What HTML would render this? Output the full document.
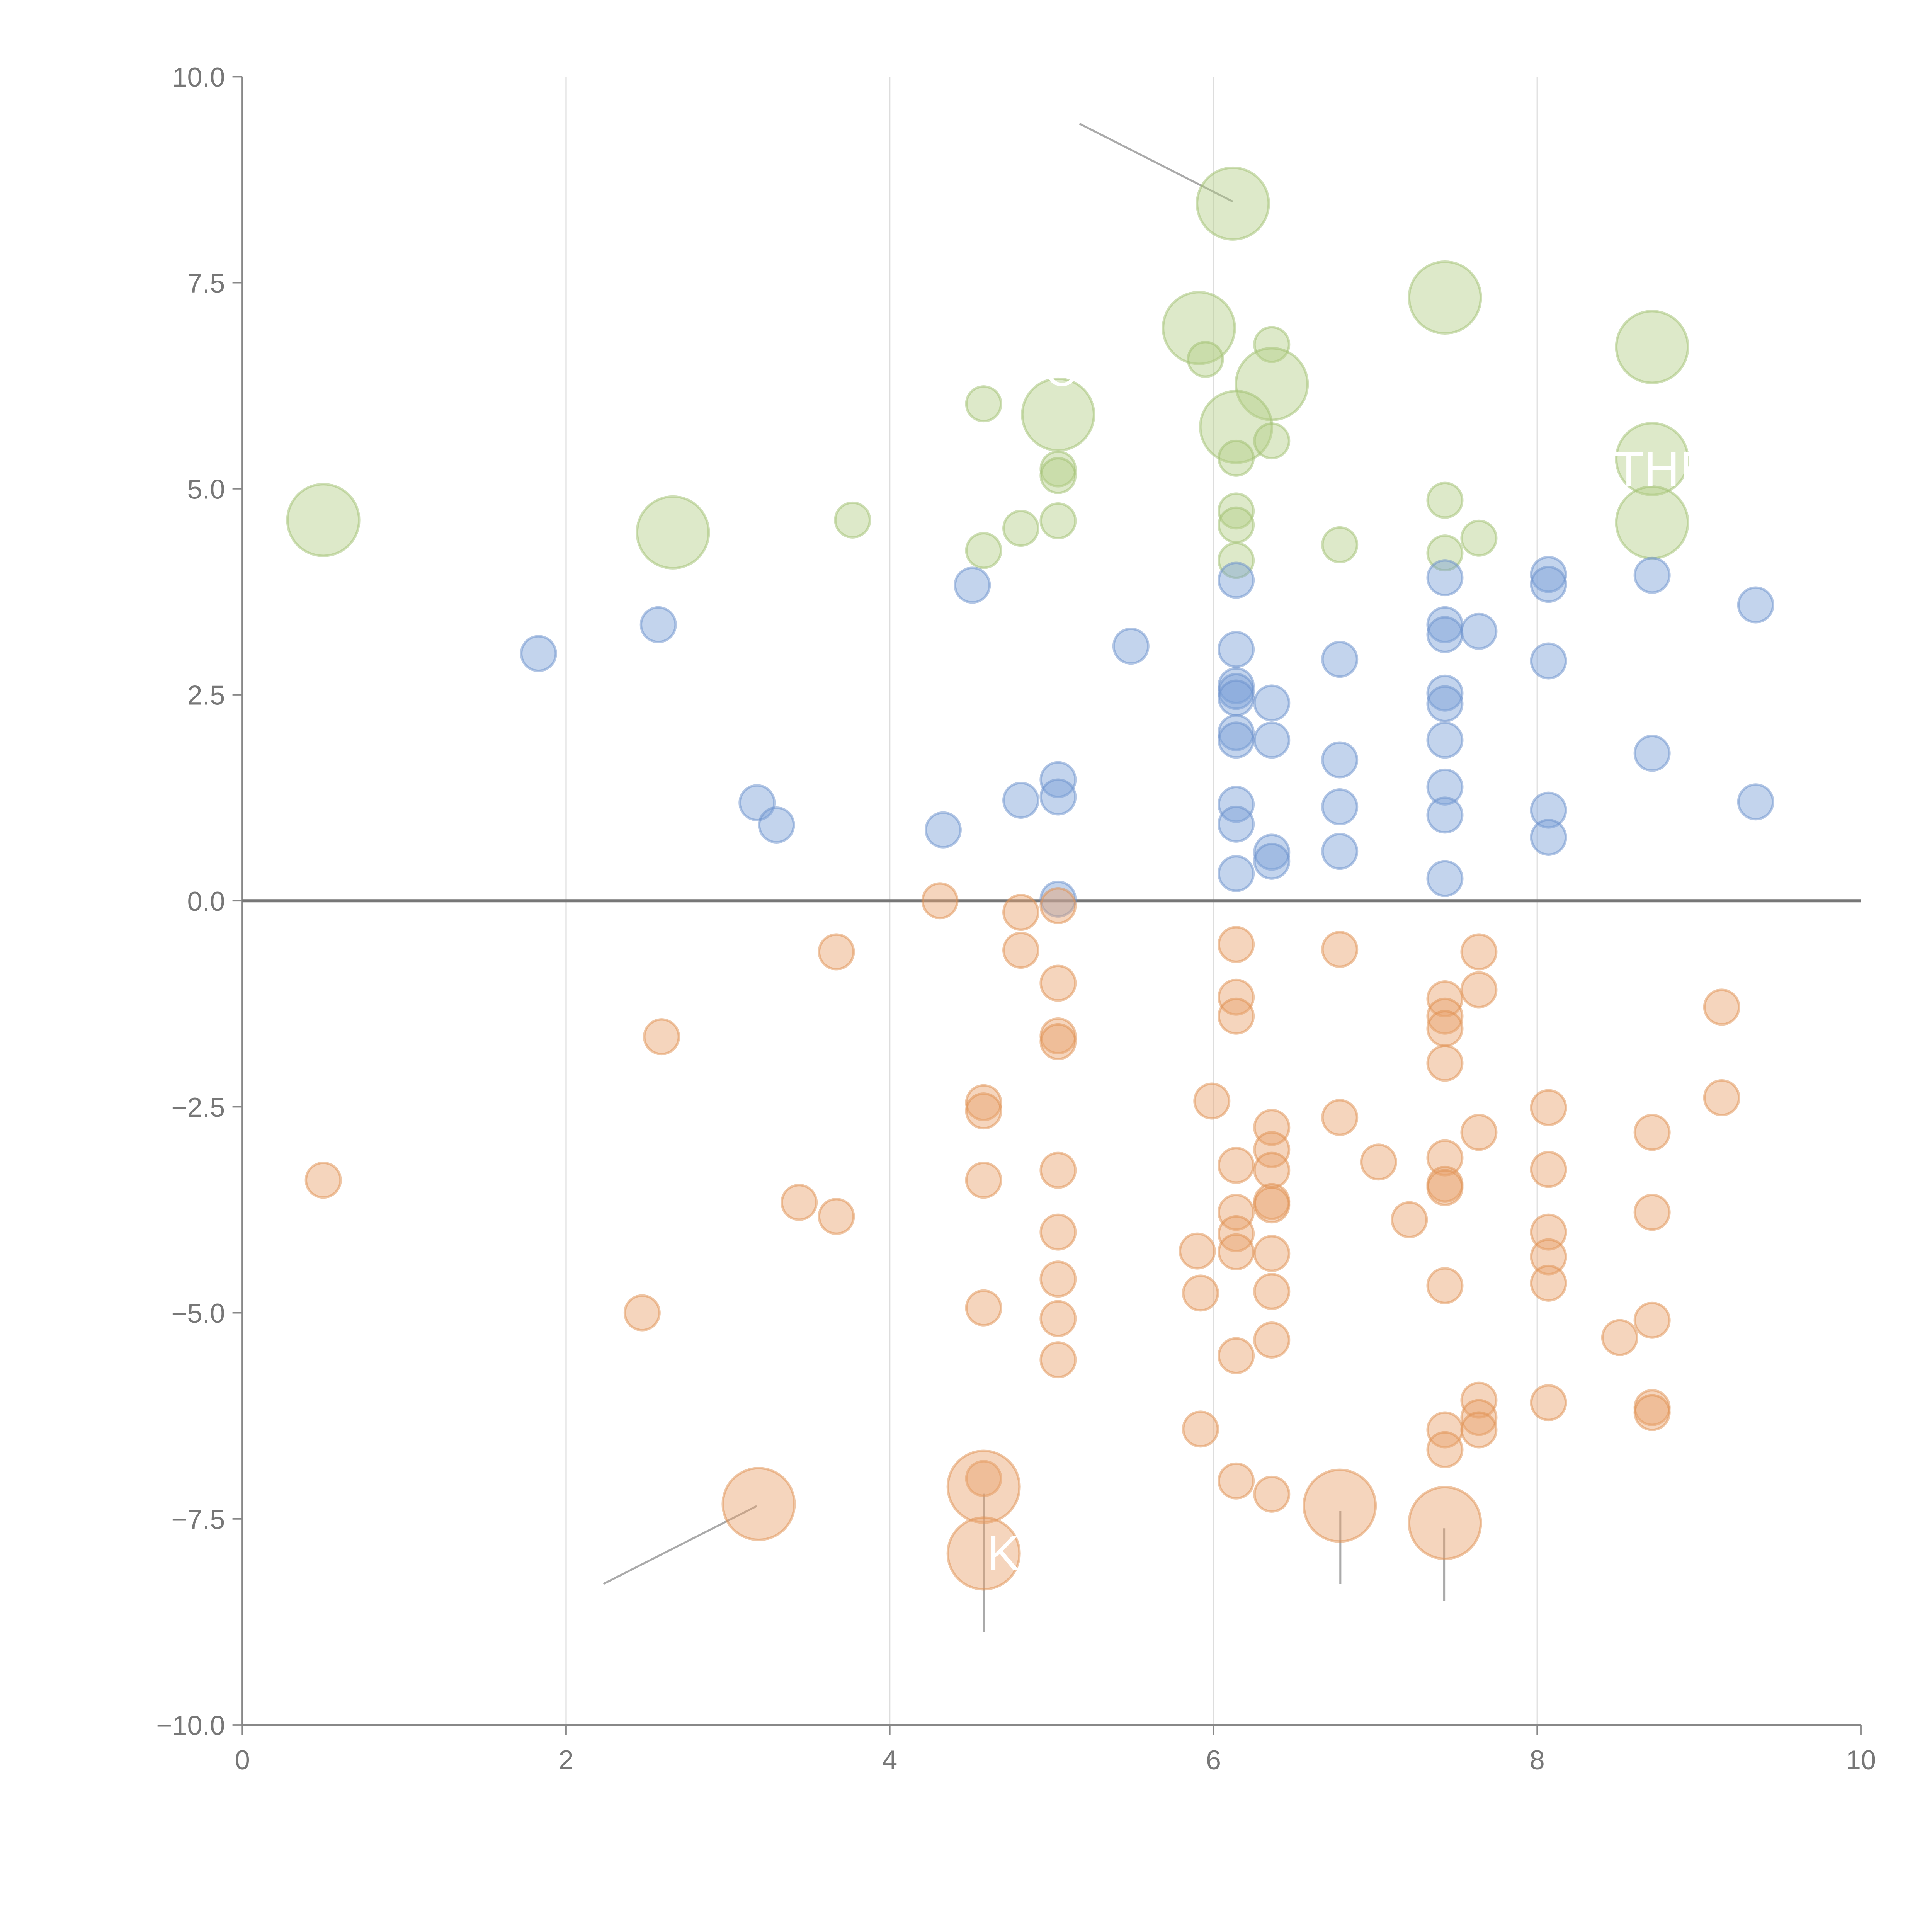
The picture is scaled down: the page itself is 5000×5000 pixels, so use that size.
<!DOCTYPE html>
<html><head><meta charset="utf-8"><style>html,body{margin:0;padding:0;background:#fff}svg{display:block}</style></head>
<body>
<svg id="chart" width="5000" height="5000" viewBox="0 0 1562.5 1562.5" xmlns="http://www.w3.org/2000/svg" font-family="Liberation Sans, sans-serif">
<g id="grid"></g>
<g id="axes"></g>
<g id="annot"></g>
<g id="marks"></g>
<g id="labels"></g>
</svg>
<script>
const xTicks = [0,2,4,6,8,10];
const yTicks = [-10,-7.5,-5,-2.5,0,2.5,5,7.5,10];
const yTickLabels = ["\u221210.0","\u22127.5","\u22125.0","\u22122.5","0.0","2.5","5.0","7.5","10.0"];
const greenX = [0.50,2.66,3.77,4.58,4.58,4.81,5.04,5.04,5.04,5.04,6.12,5.91,5.95,6.36,6.36,6.14,6.36,6.14,6.14,6.14,6.14,6.78,7.43,7.43,7.43,7.64,8.71,8.71,8.71];
const greenY = [4.62,4.47,4.62,6.03,4.25,4.52,5.90,5.24,5.16,4.61,8.46,6.95,6.57,6.75,6.27,5.75,5.58,5.37,4.73,4.56,4.13,4.32,7.32,4.86,4.22,4.40,6.72,5.36,4.59];
const greenS = [2,2,1,1,1,1,2,1,1,1,2,2,1,1,2,2,1,1,1,1,1,1,2,1,1,1,2,2,2];
const blueX = [1.83,2.57,3.18,3.30,4.33,4.51,4.81,5.04,5.04,5.04,5.49,6.14,6.14,6.14,6.14,6.14,6.14,6.14,6.14,6.14,6.14,6.36,6.36,6.36,6.36,6.78,6.78,6.78,6.78,7.43,7.43,7.43,7.43,7.43,7.43,7.43,7.43,7.43,7.64,8.07,8.07,8.07,8.07,8.07,8.71,8.71,9.35,9.35];
const blueY = [3.00,3.35,1.19,0.92,0.86,3.83,1.22,1.47,1.26,0.02,3.09,3.89,3.05,2.61,2.54,2.46,2.04,1.95,1.17,0.93,0.33,2.40,1.95,0.59,0.48,2.93,1.71,1.14,0.60,3.92,3.35,3.23,2.52,2.39,1.95,1.38,1.04,0.27,3.27,3.96,3.84,2.91,1.10,0.77,3.95,1.79,3.59,1.20];
const orangeX = [0.50,2.47,2.59,3.19,3.44,3.67,3.67,4.31,4.58,4.58,4.58,4.58,4.58,4.58,4.58,4.81,4.81,5.04,5.04,5.04,5.04,5.04,5.04,5.04,5.04,5.04,5.99,5.90,5.92,5.92,6.14,6.14,6.14,6.14,6.14,6.14,6.14,6.14,6.14,6.36,6.36,6.36,6.36,6.36,6.36,6.36,6.36,6.36,6.78,6.78,6.78,7.02,7.21,7.43,7.43,7.43,7.43,7.43,7.43,7.43,7.43,7.43,7.43,7.43,7.64,7.64,7.64,7.64,7.64,7.64,8.07,8.07,8.07,8.07,8.07,8.07,8.51,8.71,8.71,8.71,8.71,8.71,9.14,9.14];
const orangeY = [-3.39,-5.00,-1.65,-7.32,-3.66,-0.62,-3.83,0.00,-2.45,-2.55,-3.39,-4.94,-7.01,-7.11,-7.92,-0.14,-0.60,-0.06,-1.00,-1.64,-1.71,-3.27,-4.02,-4.59,-5.07,-5.57,-2.43,-4.25,-4.76,-6.41,-0.53,-1.17,-1.40,-3.21,-3.78,-4.04,-4.26,-5.52,-7.04,-2.75,-3.02,-3.27,-3.65,-3.69,-4.28,-4.74,-5.33,-7.20,-0.59,-2.63,-7.34,-3.17,-3.87,-1.19,-1.40,-1.55,-1.97,-3.12,-3.44,-3.48,-4.67,-6.42,-6.66,-7.55,-0.62,-1.08,-2.81,-6.06,-6.27,-6.42,-2.51,-3.26,-4.02,-4.32,-4.64,-6.09,-5.30,-2.81,-3.78,-5.09,-6.15,-6.21,-1.29,-2.39];
const orangeS = [1,1,1,2,1,1,1,1,1,1,1,1,1,2,2,1,1,1,1,1,1,1,1,1,1,1,1,1,1,1,1,1,1,1,1,1,1,1,1,1,1,1,1,1,1,1,1,1,1,1,2,1,1,1,1,1,1,1,1,1,1,1,1,2,1,1,1,1,1,1,1,1,1,1,1,1,1,1,1,1,1,1,1,1];

const NS="http://www.w3.org/2000/svg";
const X0=196,X1=1505,Y0=1395,Y1=62;
function xs(v){return X0+(v-0)/(10-0)*(X1-X0);}
function ys(v){return Y0-(v+10)/20*(Y0-Y1);}
function rs(s){return s===2?29:14;}
function mk(tag,attrs,parent){const e=document.createElementNS(NS,tag);for(const k in attrs)e.setAttribute(k,attrs[k]);parent.appendChild(e);return e;}
const grid=document.getElementById('grid'),axes=document.getElementById('axes'),marks=document.getElementById('marks'),annot=document.getElementById('annot'),labels=document.getElementById('labels');

xTicks.forEach(t=>{
  if(t>0&&t<10){const g=mk('line',{x1:xs(t),x2:xs(t),y1:Y1,y2:Y0,stroke:'#dddddd','stroke-width':1},grid);
  
  }
  const tk=mk('line',{x1:xs(t),x2:xs(t),y1:Y0,y2:Y0+8,stroke:'#888','stroke-width':1.2},axes);
  
  
  const tx=mk('text',{x:xs(t),y:Y0+36,'text-anchor':'middle','font-size':22,fill:'#777'},axes);
  
  
  tx.textContent=String(t);
});
yTicks.forEach((t,i)=>{
  const tk=mk('line',{x1:X0-8,x2:X0,y1:ys(t),y2:ys(t),stroke:'#888','stroke-width':1.2},axes);
  
  
  const tx=mk('text',{x:X0-14,y:ys(t)+8,'text-anchor':'end','font-size':22,fill:'#777'},axes);
  
  
  tx.textContent=yTickLabels[i];
});
let a=mk('line',{x1:X0,x2:X0,y1:Y1,y2:Y0,stroke:'#888','stroke-width':1.3},axes);


a=mk('line',{x1:X0,x2:X1,y1:Y0,y2:Y0,stroke:'#888','stroke-width':1.3},axes);


a=mk('line',{x1:X0,x2:X1,y1:ys(0),y2:ys(0),stroke:'#777','stroke-width':2.5},axes);



function series(xv,yv,sv,fill,stroke,name){
  xv.forEach((x,i)=>{
    const c=mk('circle',{cx:xs(x),cy:ys(yv[i]),r:rs(sv[i]),fill:fill,'fill-opacity':0.45,stroke:stroke,'stroke-opacity':0.5,'stroke-width':2},marks);
    
    
  });
}
series(greenX,greenY,greenS,'#b3cf88','#9fc070','bubble-green');
series(blueX,blueY,[],'#7b9fd6','#6a8fcc','bubble-blue');
series(orangeX,orangeY,orangeS,'#e9a26d','#e0904f','bubble-orange');

const leaders=[[873,100,997,163],[488,1281,612,1218],[796,1208,796,1320],[1084,1222,1084,1281],[1168,1236,1168,1295]];
leaders.forEach(l=>{const e=mk('line',{x1:l[0],y1:l[1],x2:l[2],y2:l[3],stroke:'#aaa','stroke-width':1.6},annot);

});
const wl=[[548,428,570,410],[860,333,880,318],[970,262,958,240],[1033,310,1056,300],[1005,350,1030,366],[1168,237,1166,212],[1340,280,1362,270],[1338,428,1341,478]];
wl.forEach(l=>{const e=mk('line',{x1:l[0],y1:l[1],x2:l[2],y2:l[3],stroke:'#fff','stroke-opacity':0.7,'stroke-width':2},annot);

});
[['K',798,1270,40],['THE',1305,393,40],['C',845,312,36]].forEach(t=>{
  const e=mk('text',{x:t[1],y:t[2],'font-size':t[3],fill:'#fff'},labels);
  
  
  e.textContent=t[0];
});
</script>
</body></html>
